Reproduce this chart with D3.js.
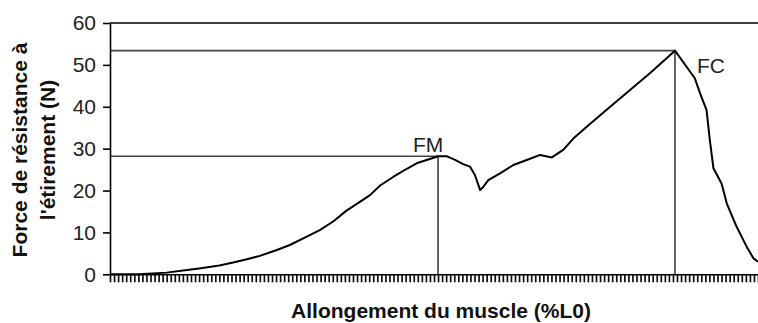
<!DOCTYPE html>
<html>
<head>
<meta charset="utf-8">
<script src="https://cdn.jsdelivr.net/npm/d3@7"></script>
<style>
  html, body { margin: 0; padding: 0; background: #fff; }
  svg { display: block; font-family: "Liberation Sans", Arial, sans-serif; }
</style>
</head>
<body>
<svg id="chart" width="758" height="323"></svg>
<script>
// Stretch position (sample index along %L0) and measured resisting force (N)
const stretch = [0, 7, 14, 19, 22, 27, 30.4, 33.8, 37, 41.2, 44.4, 48.6, 51.9, 55.1, 58.4, 61.7, 64.2, 66.7, 70, 73.3, 75.7, 78.2, 81,
  83.1, 85.2, 87.2, 88.9, 90.1, 91.4, 92.2, 93.4, 96.3, 99.6, 102.9, 106.2, 109.1, 111.9, 114.4, 118.5, 123.5, 128.4, 133.3, 139.5,
  142.4, 144.4, 145.7, 147.3, 148.1, 149, 151, 152.3, 154.7, 157.2, 158.9, 160];
const force = [0, 0, 0.4, 1.0, 1.4, 2.1, 2.8, 3.6, 4.4, 5.8, 7.0, 9.0, 10.6, 12.6, 15.2, 17.3, 18.9, 21.2, 23.3, 25.2, 26.5, 27.3, 28.2,
  28.2, 27.3, 26.3, 25.7, 23.7, 20.1, 20.9, 22.5, 24.1, 26.1, 27.3, 28.5, 27.9, 29.7, 32.4, 35.9, 40.0, 44.0, 48.0, 53.4,
  49.5, 46.8, 43.2, 39.2, 32.1, 25.3, 21.7, 16.9, 11.4, 6.6, 3.8, 3.0];

// Marked points: maximal force (FM) and rupture force (FC)
const markers = [
  { name: "FM", x: 81, y: 28.2 },
  { name: "FC", x: 139.5, y: 53.4 }
];

const yTicks = [0, 10, 20, 30, 40, 50, 60];
const xTickCount = 160;
const xTitle = "Allongement du muscle (%L0)";
const yTitle = ["Force de résistance à", "l'étirement (N)"];

const svg = d3.select("#chart");
const plotLeft = 110, plotRight = 758, plotTop = 23, plotBottom = 274.3;

const x = d3.scaleLinear().domain([0, xTickCount]).range([plotLeft, plotRight]);
const y = d3.scaleLinear().domain([0, 60]).range([plotBottom, plotTop]);

// top frame line at the max of the y scale
svg.append("line")
  .attr("x1", plotLeft).attr("x2", plotRight)
  .attr("y1", y(60)).attr("y2", y(60))
  .attr("stroke", "#000").attr("stroke-width", 1.6);

// reference lines from the marked points to the axes
const refs = svg.append("g").attr("stroke", "#222").attr("stroke-width", 1.4).attr("fill", "none");
markers.forEach(m => {
  refs.append("line").attr("x1", x(0)).attr("x2", x(m.x))
    .attr("y1", y(m.y)).attr("y2", y(m.y)).attr("stroke", "#444").attr("stroke-width", 1.6);
  refs.append("line").attr("x1", x(m.x)).attr("x2", x(m.x))
    .attr("y1", y(m.y)).attr("y2", y(0));
});

// x axis: unlabelled dense ticks
const xAxis = svg.append("g")
  .attr("transform", `translate(0,${plotBottom})`)
  .call(d3.axisBottom(x).tickValues(d3.range(0, xTickCount + 1)).tickSize(8).tickSizeOuter(0).tickFormat(""));
xAxis.select(".domain").attr("stroke", "#000").attr("stroke-width", 1.6);
xAxis.selectAll(".tick line").attr("stroke", "#111").attr("stroke-width", 1.7);

// y axis
const yAxis = svg.append("g")
  .attr("transform", `translate(${plotLeft},0)`)
  .call(d3.axisLeft(y).tickValues(yTicks).tickSize(7).tickSizeOuter(0).tickPadding(7));
yAxis.select(".domain").attr("stroke", "#000").attr("stroke-width", 1.6);
yAxis.selectAll(".tick line").attr("stroke", "#000").attr("stroke-width", 1.6);
yAxis.selectAll(".tick text")
  .attr("font-size", 21).attr("fill", "#222")
  .attr("font-family", "'Liberation Sans', Arial, sans-serif");

// force curve
const pts = stretch.map((s, i) => [s, force[i]]);
svg.append("path")
  .datum(pts)
  .attr("fill", "none")
  .attr("stroke", "#000")
  .attr("stroke-width", 2)
  .attr("stroke-linejoin", "round")
  .attr("d", d3.line().x(d => x(d[0])).y(d => y(d[1])));

// marker labels
svg.append("text").text("FM")
  .attr("x", x(markers[0].x) - 10).attr("y", y(markers[0].y) - 4)
  .attr("text-anchor", "middle").attr("font-size", 21).attr("fill", "#222");
svg.append("text").text("FC")
  .attr("x", x(markers[1].x) + 22).attr("y", y(markers[1].y) + 22)
  .attr("text-anchor", "start").attr("font-size", 21).attr("fill", "#222");

// axis titles
svg.append("text").text(xTitle)
  .attr("x", 441).attr("y", 318)
  .attr("text-anchor", "middle").attr("font-size", 21).attr("font-weight", "bold").attr("fill", "#111");

const yt = svg.append("text")
  .attr("transform", "translate(27,150) rotate(-90)")
  .attr("text-anchor", "middle").attr("font-size", 21).attr("font-weight", "bold").attr("fill", "#111");
yt.append("tspan").attr("x", 0).attr("dy", 0).text(yTitle[0]);
yt.append("tspan").attr("x", 0).attr("dy", 28).text(yTitle[1]);
</script>
</body>
</html>
